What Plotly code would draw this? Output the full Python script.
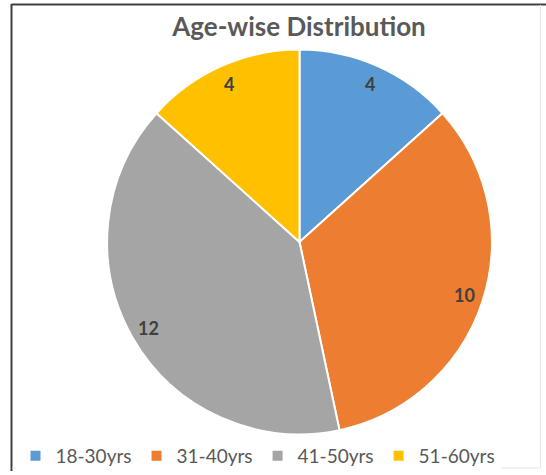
import math
import plotly.graph_objects as go

categories = ["18-30yrs", "31-40yrs", "41-50yrs", "51-60yrs"]
values = [4, 10, 12, 4]
colors = ["#5B9BD5", "#ED7D31", "#A5A5A5", "#FFC000"]

W, H = 546, 475
PIE_X = [105 / W, 494 / W]
PIE_Y = [37 / H, 425 / H]

fig = go.Figure(go.Pie(
    labels=categories,
    values=values,
    marker=dict(colors=colors, line=dict(color="white", width=2)),
    sort=False,
    direction="clockwise",
    rotation=0,
    textinfo="none",
    domain=dict(x=PIE_X, y=PIE_Y),
    hoverinfo="label+value",
))

# data labels placed near the outer edge of each slice (Excel "inside end" style)
cx = (PIE_X[0] + PIE_X[1]) / 2 * W
cy = (PIE_Y[0] + PIE_Y[1]) / 2 * H
R = min((PIE_X[1] - PIE_X[0]) * W, (PIE_Y[1] - PIE_Y[0]) * H) / 2
total = sum(values)
cum = 0
annotations = []
for v in values:
    mid = (cum + v / 2) / total * 2 * math.pi
    cum += v
    r = R - 20
    x = cx + r * math.sin(mid)
    y = cy + r * math.cos(mid)
    annotations.append(dict(x=x / W, y=y / H, xref="paper", yref="paper", text="<b>%d</b>" % v,
                            showarrow=False, xanchor="center", yanchor="middle",
                            font=dict(family="Lato", size=18, color="#404040")))

fig.update_layout(
    width=W, height=H,
    margin=dict(l=0, r=0, t=0, b=0),
    paper_bgcolor="white",
    title=dict(text="<b>Age-wise Distribution</b>", x=299 / W, xanchor="center",
               y=1 - 27 / H, yanchor="middle", yref="paper",
               font=dict(family="Lato", size=26, color="#595959")),
    legend=dict(orientation="h", x=258 / W, xanchor="center", y=15 / H, yanchor="middle",
                font=dict(family="Lato", size=19, color="#595959"),
                itemwidth=30, traceorder="normal"),
    annotations=annotations,
    shapes=[
        dict(type="line", xref="paper", yref="paper", x0=11.5 / W, x1=11.5 / W, y0=0, y1=1 - 4 / H,
             line=dict(color="#404040", width=2)),
        dict(type="line", xref="paper", yref="paper", x0=11.5 / W, x1=1, y0=1 - 4.5 / H, y1=1 - 4.5 / H,
             line=dict(color="#404040", width=2)),
        dict(type="line", xref="paper", yref="paper", x0=540.5 / W, x1=540.5 / W, y0=3 / H, y1=1 - 5 / H,
             line=dict(color="#E6E6E6", width=1)),
        dict(type="line", xref="paper", yref="paper", x0=12 / W, x1=540 / W, y0=3 / H, y1=3 / H,
             line=dict(color="#E6E6E6", width=1)),
    ],
)

fig.write_html("out.html")
